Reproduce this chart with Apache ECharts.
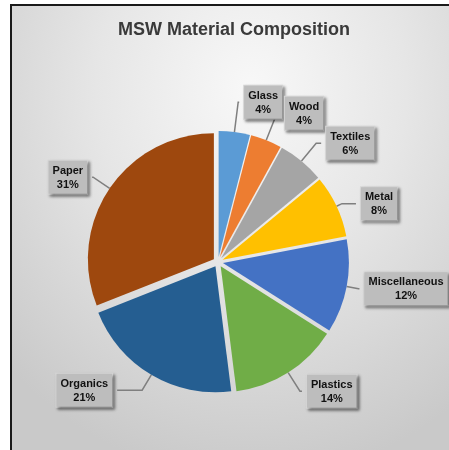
<!DOCTYPE html>
<html>
<head>
<meta charset="utf-8">
<script src="https://cdn.jsdelivr.net/npm/echarts@6/dist/echarts.min.js"></script>
<style>
  html, body { margin: 0; padding: 0; background: #fff; overflow: hidden; }
  #frame {
    position: absolute; left: 10px; top: 4px; width: 460px; height: 460px;
    border-left: 2px solid #1a1a1a; border-top: 2px solid #1a1a1a;
    background: radial-gradient(ellipse 75% 85% at 52% 18%, #f8f8f8 0%, #e6e6e6 45%, #c9c9c9 100%);
  }
  #chart { position: absolute; left: 0; top: 0; width: 449px; height: 450px; }
</style>
</head>
<body>
<div id="frame"></div>
<div id="chart"></div>
<script>
// MSW 组成，从图上读出来的百分比
var materials = ['Glass', 'Wood', 'Textiles', 'Metal', 'Miscellaneous', 'Plastics', 'Organics', 'Paper'];
var shares = [4, 4, 6, 8, 12, 14, 21, 31];
var colors = ['#5b9bd5', '#ed7d31', '#a5a5a5', '#ffc000', '#4472c4', '#70ad47', '#255e91', '#9e480e'];

// 引导线长度（第一段 / 第二段），让标签框落在原图的位置附近
var leaderLen = [30, 29, 23, 6, 12, 22, 18, 20];
var leaderLen2 = [1, 3, 5, 14, 1, 2, 25, 1];

var chart = echarts.init(document.getElementById('chart'));

var pieData = materials.map(function(name, i) {
    return {
        name: name,
        value: shares[i],
        selected: true,   // 全部炸开，做出扇区之间的缝
        itemStyle: { color: colors[i] },
        labelLine: { length: leaderLen[i], length2: leaderLen2[i] }
    };
});

var option = {
    title: {
        text: 'MSW Material Composition',
        left: 113,
        top: 16,
        textStyle: {
            fontFamily: 'Liberation Sans, Arial, sans-serif',
            fontWeight: 'bold',
            fontSize: 18,
            color: '#3a3a3a'
        }
    },
    series: [
        {
            name: 'MSW',
            type: 'pie',
            center: [218, 262],
            radius: 126,
            startAngle: 90,
            clockwise: true,
            selectedMode: 'multiple',
            selectedOffset: 5,
            avoidLabelOverlap: false,
            animation: false,
            label: {
                show: true,
                position: 'outside',
                overflow: 'none',
                formatter: '{t|{b}}\n{t|{c}%}',
                backgroundColor: '#bdbdbd',
                borderColor: '#d6d6d6',
                borderWidth: 1,
                padding: [3, 4, 2, 4],
                shadowColor: 'rgba(0,0,0,0.45)',
                shadowBlur: 3,
                shadowOffsetX: 2,
                shadowOffsetY: 2,
                rich: {
                    t: {
                        align: 'center',
                        fontFamily: 'Liberation Sans, Arial, sans-serif',
                        fontWeight: 'bold',
                        fontSize: 11,
                        lineHeight: 14,
                        color: '#111'
                    }
                }
            },
            labelLine: {
                show: true,
                lineStyle: { color: '#7f7f7f', width: 1.5 }
            },
            labelLayout: { hideOverlap: false },
            emphasis: { disabled: true },
            data: pieData
        }
    ]
};

chart.setOption(option);
</script>
</body>
</html>
